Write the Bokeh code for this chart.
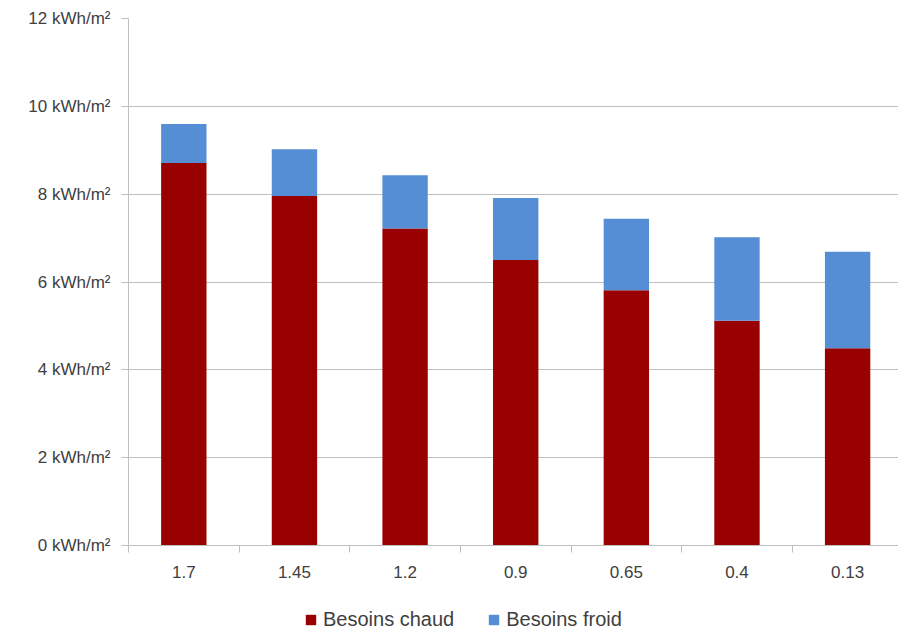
from bokeh.plotting import figure
from bokeh.layouts import column
from bokeh.models import FixedTicker, PrintfTickFormatter, Legend, LegendItem, ColumnDataSource, Range1d
from bokeh.embed import file_html
from bokeh.resources import INLINE

categories = ["1.7", "1.45", "1.2", "0.9", "0.65", "0.4", "0.13"]
besoins_chaud = [8.71, 7.96, 7.22, 6.50, 5.81, 5.12, 4.49]
besoins_froid = [0.89, 1.06, 1.21, 1.41, 1.63, 1.90, 2.20]
y_ticks = [0, 2, 4, 6, 8, 10, 12]
series_names = ["Besoins chaud", "Besoins froid"]
series_colors = ["#990000", "#558ED5"]

xpos = [i + 0.5 for i in range(len(categories))]
src = ColumnDataSource(dict(x=xpos, chaud=besoins_chaud, froid=besoins_froid))

FONT = "Liberation Sans"
TXT = "#404040"
GRID = "#bfbfbf"

p = figure(width=898, height=586, output_backend="svg", toolbar_location=None,
           x_range=Range1d(0, len(categories) - 0.04), y_range=Range1d(0, 12),
           min_border_left=128, min_border_right=0, min_border_top=18, min_border_bottom=41)
p.outline_line_color = None
p.background_fill_color = "white"

r = p.vbar_stack(["chaud", "froid"], x="x", width=0.41, source=src,
                 color=series_colors, line_color=None)

# y axis
p.yaxis.ticker = FixedTicker(ticks=y_ticks, minor_ticks=[])
p.yaxis.formatter = PrintfTickFormatter(format="%d kWh/m²")
p.yaxis.axis_line_color = GRID
p.yaxis.major_tick_line_color = GRID
p.yaxis.major_tick_out = 7
p.yaxis.major_tick_in = 0
p.yaxis.minor_tick_line_color = None
p.yaxis.major_label_text_font = FONT
p.yaxis.major_label_text_font_size = "17px"
p.yaxis.major_label_text_color = TXT
p.yaxis.major_label_standoff = 11

# x axis
p.xaxis.ticker = FixedTicker(ticks=xpos, minor_ticks=list(range(len(categories) + 1)))
p.xaxis.major_label_overrides = {x: c for x, c in zip(xpos, categories)}
p.xaxis.axis_line_color = GRID
p.xaxis.major_tick_line_color = None
p.xaxis.minor_tick_line_color = GRID
p.xaxis.minor_tick_out = 7
p.xaxis.minor_tick_in = 0
p.xaxis.major_label_text_font = FONT
p.xaxis.major_label_text_font_size = "17px"
p.xaxis.major_label_text_color = TXT
p.xaxis.major_label_standoff = 13

p.xgrid.grid_line_color = None
p.ygrid.ticker = FixedTicker(ticks=y_ticks)
p.ygrid.grid_line_color = GRID
p.ygrid.grid_line_width = 1

# legend strip below the chart
lg = figure(width=898, height=45, output_backend="svg", toolbar_location=None,
            x_range=Range1d(0, 1), y_range=Range1d(0, 1),
            min_border_left=0, min_border_right=0, min_border_top=0, min_border_bottom=0)
lg.axis.visible = False
lg.grid.visible = False
lg.outline_line_color = None
items = []
for name, col in zip(series_names, series_colors):
    rr = lg.vbar(x=[-5], top=[0], width=0.5, color=col, line_color=None)
    items.append(LegendItem(label=name, renderers=[rr]))

legend = Legend(items=items, orientation="horizontal", location=(176, 0))
legend.border_line_color = None
legend.background_fill_alpha = 0
legend.label_text_font = FONT
legend.label_text_font_size = "20px"
legend.label_text_color = TXT
legend.glyph_width = 13
legend.glyph_height = 13
legend.label_standoff = 6
legend.spacing = 33
legend.padding = 0
legend.margin = 0
lg.add_layout(legend, "center")

layout = column(p, lg, spacing=0)
open("out.html", "w").write(file_html(layout, INLINE))
